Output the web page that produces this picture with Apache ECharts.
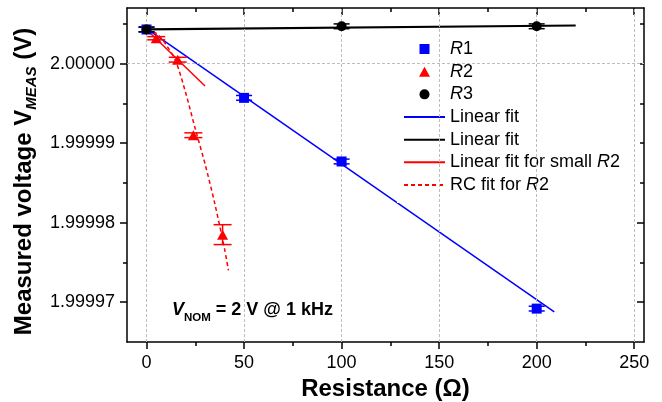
<!DOCTYPE html>
<html><head><meta charset="utf-8">
<script src="https://cdn.jsdelivr.net/npm/echarts@6/dist/echarts.min.js"></script>
<style>html,body{margin:0;padding:0;background:#fff}#c{width:662px;height:402px}</style>
</head><body><div id="c"></div>
<script>
// ---- tick values ----
const xMajorTicks = [0, 50, 100, 150, 200, 250];
const xMinorTicks = [25, 75, 125, 175, 225];
const yMajorTicks = [1.99997, 1.99998, 1.99999, 2.00000];
const yMinorTicks = [1.999975, 1.999985, 1.999995, 2.000005];

// ---- measured data (Resistance in ohm, voltage in V, error in V) ----
const r1X = [0, 50, 100, 200];
const r1V = [2.0000043, 1.9999957, 1.9999877, 1.9999692];
const r1Err = [0.0000003, 0.0000003, 0.0000003, 0.0000003];

const r2X = [5, 16, 24, 39];
const r2V = [2.0000032, 2.0000005, 1.9999910, 1.9999785];
const r2Err = [0.0000002, 0.0000003, 0.0000003, 0.00000125];

const r3X = [0, 100, 200];
const r3V = [2.0000043, 2.0000047, 2.0000047];
const r3Err = [0.0000003, 0.0000003, 0.0000003];

// ---- fits ----
const fitR1X = [0, 209];
const fitR1V = [2.0000044, 1.9999688];
const fitR3X = [0, 220];
const fitR3V = [2.0000043, 2.0000048];
const fitSmallX = [0, 30];
const fitSmallV = [2.0000043, 1.9999972];
const rcX = [0, 5, 10, 15, 20, 25, 30, 35, 40, 42];
const rcV = [2.0000043, 2.0000038, 2.0000024, 2.0000003, 1.9999964, 1.9999918, 1.9999874, 1.9999824, 1.9999767, 1.9999740];

const F = '"Liberation Sans", Arial, sans-serif';
const zip = (xs, ys) => xs.map((x, i) => [x, ys[i]]);
const zip3 = (xs, ys, es) => xs.map((x, i) => [x, ys[i], es[i]]);

function errRender(color, halfW) {
  return function (params, api) {
    const x = api.value(0), v = api.value(1), e = api.value(2);
    const hi = api.coord([x, v + e]), lo = api.coord([x, v - e]);
    const st = { stroke: color, lineWidth: 1.5 };
    return { type: 'group', children: [
      { type: 'line', shape: { x1: hi[0], y1: hi[1], x2: lo[0], y2: lo[1] }, style: st },
      { type: 'line', shape: { x1: hi[0] - halfW, y1: hi[1], x2: hi[0] + halfW, y2: hi[1] }, style: st },
      { type: 'line', shape: { x1: lo[0] - halfW, y1: lo[1], x2: lo[0] + halfW, y2: lo[1] }, style: st }
    ]};
  };
}

const legendLabels = {
  'R1': '{i|R}1', 'R2': '{i|R}2', 'R3': '{i|R}3',
  'Linear fit': 'Linear fit', 'Linear fit ': 'Linear fit',
  'Linear fit for small R2': 'Linear fit for small {i|R}2',
  'RC fit for R2': 'RC fit for {i|R}2'
};

const axLine = { show: true, onZero: false, lineStyle: { color: '#000', width: 1.5 } };
const tickStyle = { color: '#000', width: 1.5 };
const xRange = { min: -10, max: 255 };
const yRange = { min: 1.999965, max: 2.000007 };
const hideSym = { opacity: 0 };

const chart = echarts.init(document.getElementById('c'), null, { renderer: 'canvas' });
chart.setOption({
  animation: false,
  backgroundColor: '#fff',
  grid: [
    { left: 127, right: 18, top: 8, bottom: 60, containLabel: false, outerBoundsMode: 'none' },
    { left: 127, right: 18, top: 8, bottom: 60, containLabel: false, outerBoundsMode: 'none' }
  ],
  xAxis: [
    Object.assign({ gridIndex: 0, type: 'value', position: 'bottom', axisLine: axLine,
      axisTick: { show: true, inside: false, length: 7, customValues: xMajorTicks, lineStyle: tickStyle },
      axisLabel: { show: true, customValues: xMajorTicks, margin: 12, fontSize: 18, color: '#000', fontFamily: F },
      splitLine: { show: false },
      name: 'Resistance (\u03A9)', nameLocation: 'middle', nameGap: 32,
      nameTextStyle: { fontSize: 24, fontWeight: 'bold', color: '#000', fontFamily: F } }, xRange),
    Object.assign({ gridIndex: 0, type: 'value', position: 'top', axisLine: axLine,
      axisTick: { show: true, inside: true, length: 7, customValues: xMajorTicks, lineStyle: tickStyle },
      axisLabel: { show: false }, splitLine: { show: false } }, xRange),
    Object.assign({ gridIndex: 1, type: 'value', position: 'bottom', axisLine: { show: false, onZero: false },
      axisTick: { show: true, inside: false, length: 4, customValues: xMinorTicks, lineStyle: tickStyle },
      axisLabel: { show: false }, splitLine: { show: false } }, xRange),
    Object.assign({ gridIndex: 1, type: 'value', position: 'top', axisLine: { show: false, onZero: false },
      axisTick: { show: true, inside: true, length: 4, customValues: xMinorTicks, lineStyle: tickStyle },
      axisLabel: { show: false }, splitLine: { show: false } }, xRange)
  ],
  yAxis: [
    Object.assign({ gridIndex: 0, type: 'value', position: 'left', axisLine: axLine,
      axisTick: { show: true, inside: false, length: 7, customValues: yMajorTicks, lineStyle: tickStyle },
      axisLabel: { show: true, customValues: yMajorTicks, margin: 12, fontSize: 18, color: '#000', fontFamily: F,
        formatter: v => v.toFixed(5) },
      splitLine: { show: false },
      name: '{b|Measured voltage V}{s|MEAS}{b| (V)}', nameLocation: 'middle', nameGap: 84, nameRotate: 90,
      nameTextStyle: { padding: [0, 13, 0, 0], rich: {
        b: { fontSize: 24, fontWeight: 'bold', color: '#000', fontFamily: F, lineHeight: 30 },
        s: { fontSize: 15, fontWeight: 'bold', fontStyle: 'italic', color: '#000', fontFamily: F, lineHeight: 16, padding: [14, 0, 0, 0] }
      } } }, yRange),
    Object.assign({ gridIndex: 0, type: 'value', position: 'right', axisLine: axLine,
      axisTick: { show: true, inside: true, length: 7, customValues: yMajorTicks, lineStyle: tickStyle },
      axisLabel: { show: false }, splitLine: { show: false } }, yRange),
    Object.assign({ gridIndex: 1, type: 'value', position: 'left', axisLine: { show: false, onZero: false },
      axisTick: { show: true, inside: false, length: 4, customValues: yMinorTicks, lineStyle: tickStyle },
      axisLabel: { show: false }, splitLine: { show: false } }, yRange),
    Object.assign({ gridIndex: 1, type: 'value', position: 'right', axisLine: { show: false, onZero: false },
      axisTick: { show: true, inside: true, length: 4, customValues: yMinorTicks, lineStyle: tickStyle },
      axisLabel: { show: false }, splitLine: { show: false } }, yRange)
  ],
  legend: {
    orient: 'vertical', left: 397, top: 31, padding: [8, 20, 8, 6], backgroundColor: '#fff',
    itemWidth: 41, itemHeight: 10, itemGap: 2.67, selectedMode: false, symbolKeepAspect: true,
    textStyle: { fontSize: 18, color: '#000', fontFamily: F, lineHeight: 20,
      rich: { i: { fontStyle: 'italic', fontSize: 18, color: '#000', fontFamily: F, lineHeight: 20 } } },
    formatter: n => legendLabels[n],
    data: [
      { name: 'R1', icon: 'path://M0,0H10V10H0Z', symbolKeepAspect: true },
      { name: 'R2', icon: 'path://M5.5,0L11,10H0Z', symbolKeepAspect: true },
      { name: 'R3', icon: 'circle' },
      { name: 'Linear fit', itemStyle: hideSym },
      { name: 'Linear fit ', itemStyle: hideSym },
      { name: 'Linear fit for small R2', itemStyle: hideSym },
      { name: 'RC fit for R2', itemStyle: hideSym }
    ]
  },
  graphic: [{
    type: 'text', left: 172, top: 296, z: 10,
    style: {
      text: '{v|V}{s|NOM}{m| = 2 V @ 1 kHz}',
      rich: {
        v: { fontSize: 18, fontWeight: 'bold', fontStyle: 'italic', fontFamily: F, fill: '#000', lineHeight: 28 },
        s: { fontSize: 11.5, fontWeight: 'bold', fontFamily: F, fill: '#000', lineHeight: 12, padding: [16, 0, 0, 0] },
        m: { fontSize: 18, fontWeight: 'bold', fontFamily: F, fill: '#000', lineHeight: 28 }
      }
    }
  }],
  series: [
    { name: 'grid', type: 'line', data: [], z: 1, silent: true,
      markLine: { symbol: 'none', silent: true, animation: false, label: { show: false },
        lineStyle: { color: '#bdbdbd', type: [3, 2], width: 1 },
        data: xMajorTicks.map(v => ({ xAxis: v })).concat(yMajorTicks.map(v => ({ yAxis: v }))) } },
    { name: 'Linear fit', type: 'line', data: zip(fitR1X, fitR1V), symbol: 'none', z: 3,
      lineStyle: { color: '#0000ff', width: 1.5 }, itemStyle: { color: '#0000ff' } },
    { name: 'Linear fit ', type: 'line', data: zip(fitR3X, fitR3V), symbol: 'none', z: 3,
      lineStyle: { color: '#000', width: 2.2 }, itemStyle: { color: '#000' } },
    { name: 'Linear fit for small R2', type: 'line', data: zip(fitSmallX, fitSmallV), symbol: 'none', z: 3,
      lineStyle: { color: '#ff0000', width: 1.5 }, itemStyle: { color: '#ff0000' } },
    { name: 'RC fit for R2', type: 'line', data: zip(rcX, rcV), symbol: 'none', smooth: 0.3, z: 3,
      lineStyle: { color: '#ff0000', width: 1.5, type: [4, 3] }, itemStyle: { color: '#ff0000' } },
    { name: 'R1err', type: 'custom', data: zip3(r1X, r1V, r1Err), renderItem: errRender('#0000ff', 8), z: 4, encode: { x: 0, y: 1 } },
    { name: 'R2err', type: 'custom', data: zip3(r2X, r2V, r2Err), renderItem: errRender('#ff0000', 9), z: 4, encode: { x: 0, y: 1 } },
    { name: 'R3err', type: 'custom', data: zip3(r3X, r3V, r3Err), renderItem: errRender('#000000', 8), z: 4, encode: { x: 0, y: 1 } },
    { name: 'R1', type: 'scatter', data: zip(r1X, r1V), symbol: 'rect', symbolSize: 10, z: 5, itemStyle: { color: '#0000ff', opacity: 1 } },
    { name: 'R2', type: 'scatter', data: zip(r2X, r2V), symbol: 'triangle', symbolSize: [11, 10], z: 5, itemStyle: { color: '#ff0000', opacity: 1 } },
    { name: 'R3', type: 'scatter', data: zip(r3X, r3V), symbol: 'circle', symbolSize: 10, z: 6, itemStyle: { color: '#000000', opacity: 1 } }
  ]
});
</script></body></html>
